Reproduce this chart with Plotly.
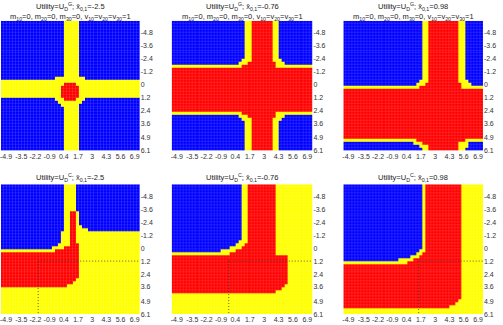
import plotly.graph_objects as go

# ---- data ----
x_tick_vals = [-4.9, -3.5, -2.2, -0.9, 0.4, 1.7, 3, 4.3, 5.6, 6.9]
x_tick_text = ["-4.9", "-3.5", "-2.2", "-0.9", "0.4", "1.7", "3", "4.3", "5.6", "6.9"]
y_tick_vals = [-4.8, -3.6, -2.4, -1.2, 0, 1.2, 2.4, 3.6, 4.9, 6.1]
y_tick_text = ["-4.8", "-3.6", "-2.4", "-1.2", "0", "1.2", "2.4", "3.6", "4.9", "6.1"]
xbar_values = ["-2.5", "-0.76", "0.98"]
utility_top = "G"
utility_bottom = "C"
subtitle = "m<sub>10</sub>=0, m<sub>20</sub>=0, m<sub>30</sub>=0, v<sub>10</sub>=v<sub>20</sub>=v<sub>30</sub>=1"

# region maps: (number of rows, run-length row) ; B=blue, Y=yellow, R=red
panel_1 = [(19, "B21 Y5 B20"), (1, "B18 Y10 B18"), (1, "Y46"), (1, "Y21 R4 Y21"),
           (4, "Y20 R6 Y20"), (1, "B18 Y3 R4 Y3 B18"), (1, "B19 Y8 B19"),
           (1, "B20 Y6 B20"), (15, "B21 Y5 B20")]
panel_2 = [(13, "B24 Y2 R7 Y2 B11"), (1, "B23 Y3 R7 Y3 B10"), (1, "B22 Y3 R9 Y3 B9"),
           (1, "Y23 R11 Y12"), (15, "R46"), (1, "Y23 R11 Y12"),
           (1, "B22 Y3 R9 Y3 B9"), (1, "B23 Y3 R7 Y3 B10"), (10, "B24 Y2 R7 Y2 B11")]
panel_3 = [(20, "B26 Y2 R10 Y2 B6"), (1, "B25 Y3 R10 Y3 B5"), (1, "B24 Y3 R12 Y3 B4"),
           (1, "Y25 R14 Y7"), (17, "R46"), (1, "Y24 R16 Y6"),
           (1, "B23 Y3 R12 Y3 B5"), (1, "B25 Y3 R10 Y3 B5"), (1, "B26 Y2 R10 Y2 B6")]
panel_4 = [(9, "B21 Y4 B21"), (5, "B21 Y2 R2 Y1 B20"), (1, "B21 Y2 R2 Y2 B19"),
           (1, "B21 Y2 R2 Y4 B17"), (4, "B20 Y3 R2 Y21"), (1, "B19 Y4 R3 Y20"),
           (1, "B17 Y4 R5 Y20"), (1, "Y18 R8 Y20"), (9, "R26 Y20"),
           (1, "R25 Y21"), (1, "R24 Y22"), (1, "R22 Y24"), (9, "Y46")]
panel_5 = [(19, "B23 Y2 R9 Y12"), (1, "B22 Y3 R9 Y12"), (1, "B21 Y3 R10 Y12"),
           (1, "B19 Y4 R11 Y12"), (1, "B16 Y5 R13 Y12"), (1, "Y19 R15 Y12"),
           (10, "R38 Y8"), (1, "R37 Y9"), (1, "R36 Y10"), (1, "R34 Y12"), (7, "Y46")]
panel_6 = [(22, "B26 Y1 R12 Y7"), (1, "B25 Y2 R12 Y7"), (1, "B24 Y2 R13 Y7"),
           (1, "B22 Y3 R14 Y7"), (1, "B18 Y5 R16 Y7"), (1, "Y21 R18 Y7"),
           (12, "R39 Y7"), (1, "R38 Y8"), (1, "R37 Y9"), (1, "R35 Y11"), (2, "Y46")]

# dotted guide point in each bottom panel (dropped to the bottom and right axes)
guide_x = [-1.95, -0.2, 1.5]
guide_y = [1.2, 1.2, 1.2]

panels = [panel_1, panel_2, panel_3, panel_4, panel_5, panel_6]
grid_x_range = (-5.36, 7.36)
grid_y_range = (-5.9, 6.1)

# ---- build ----
code = {"B": 0, "Y": 1, "R": 2}


def decode(spec):
    rows = []
    for n, s in spec:
        row = []
        for tok in s.split():
            row += [code[tok[0]]] * int(tok[1:])
        rows += [row] * n
    return rows


W, H = 503, 325
x_dom_px = [(0, 139), (171, 312), (343, 483)]
y_dom_px = [(21, 152), (186, 317)]

colorscale = [[0, "#0000FF"], [1 / 3, "#0000FF"], [1 / 3, "#FFFF00"],
              [2 / 3, "#FFFF00"], [2 / 3, "#FF0000"], [1, "#FF0000"]]

fig = go.Figure()
annotations = []
shapes = []
for i, spec in enumerate(panels):
    z = decode(spec)
    nrows, ncols = len(z), len(z[0])
    dx = (grid_x_range[1] - grid_x_range[0]) / ncols
    dy = (grid_y_range[1] - grid_y_range[0]) / nrows
    r, c = divmod(i, 3)
    k = "" if i == 0 else str(i + 1)
    fig.add_trace(go.Heatmap(
        z=z, x0=grid_x_range[0] + dx / 2, dx=dx, y0=grid_y_range[0] + dy / 2, dy=dy,
        colorscale=colorscale, zmin=0, zmax=2, showscale=False, hoverinfo="skip",
        xgap=0.1, ygap=0.1, xaxis="x" + k, yaxis="y" + k))
    xd = x_dom_px[c]
    yd = y_dom_px[r]
    fig.layout["xaxis" + k] = dict(
        domain=[xd[0] / W, xd[1] / W], range=list(grid_x_range), anchor="y" + k,
        tickvals=x_tick_vals, ticktext=x_tick_text, ticks="", showgrid=False,
        zeroline=False, tickfont=dict(size=7, color="#333"),
        ticklabeloverflow="allow")
    fig.layout["yaxis" + k] = dict(
        domain=[1 - yd[1] / H, 1 - yd[0] / H], range=[grid_y_range[1], grid_y_range[0]],
        anchor="x" + k, side="right", tickvals=y_tick_vals, ticktext=y_tick_text,
        ticks="", showgrid=False, zeroline=False, tickfont=dict(size=7, color="#333"),
        ticklabeloverflow="allow")
    util = utility_top if r == 0 else utility_bottom
    title = "Utility=U<sub>D</sub><sup>%s</sup>; x̄<sub>0,1</sub>=%s" % (util, xbar_values[c])
    cx = (xd[0] + xd[1]) / 2 / W
    ty = 7 if r == 0 else 179
    annotations.append(dict(text=title, x=cx, y=1 - ty / H, xref="paper", yref="paper",
                            showarrow=False, font=dict(size=7.5, color="#222"),
                            xanchor="center", yanchor="middle"))
    if r == 0:
        annotations.append(dict(text=subtitle, x=cx, y=1 - 17 / H, xref="paper",
                                yref="paper", showarrow=False,
                                font=dict(size=7.5, color="#222"),
                                xanchor="center", yanchor="middle"))
    else:
        line = dict(color="#333", width=0.8, dash="1px,2px")
        shapes.append(dict(type="line", xref="x" + k, yref="y" + k, line=line,
                           x0=guide_x[c], x1=guide_x[c],
                           y0=guide_y[c], y1=grid_y_range[1]))
        shapes.append(dict(type="line", xref="x" + k, yref="y" + k, line=line,
                           x0=guide_x[c], x1=grid_x_range[1],
                           y0=guide_y[c], y1=guide_y[c]))

fig.update_layout(width=W, height=H, margin=dict(l=0, r=0, t=0, b=0),
                  paper_bgcolor="white", plot_bgcolor="white",
                  font=dict(family="Liberation Sans, Arial, sans-serif"),
                  annotations=annotations, shapes=shapes)
fig.write_html("out.html")
